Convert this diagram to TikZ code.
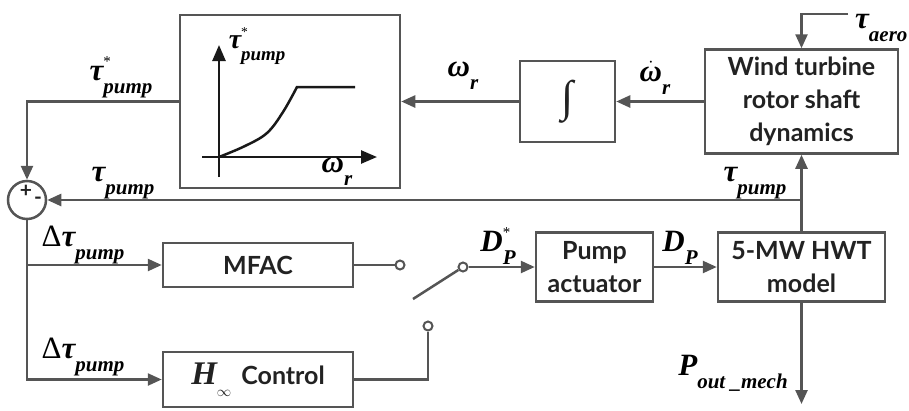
\documentclass[tikz,border=0pt]{standalone}
\usepackage{fontspec}
\usepackage{amsmath}
\setmainfont{Lato}
\newfontfamily\lsr{Liberation Serif}
\usetikzlibrary{arrows.meta}
\definecolor{ln}{HTML}{555555}
\definecolor{tx}{HTML}{222222}
% main symbol, superscript, subscript
\newcommand\sg[3]{#1\rlap{\raisebox{14pt}{\fontsize{15}{15}\selectfont\mdseries\upshape #2}}\raisebox{-13pt}{\fontsize{21}{21}\selectfont #3}}
\tikzset{
 wire/.style={draw=ln, line width=2.5pt},
 arr/.style={wire, -{Triangle[length=14pt,width=12pt]}},
 blk/.style={draw=ln, line width=2.5pt, inner sep=0pt, font=\bfseries\fontsize{25}{33}\selectfont, align=center, text=tx},
 lab/.style={font=\lsr\bfseries\itshape\fontsize{31}{31}\selectfont, inner sep=0pt, text=black},
 term/.style={circle, draw=ln, line width=2pt, fill=white, minimum size=9pt, inner sep=0pt},
 ax/.style={draw=black!90, line width=2.5pt, -{Triangle[length=16pt,width=13pt]}},
 pm/.style={font=\bfseries\fontsize{21}{21}\selectfont, inner sep=0pt, text=tx},
}
\begin{document}
\begin{tikzpicture}[x=1pt,y=-1pt]
\useasboundingbox (0,0) rectangle (909,410);
% blocks
\node[blk, minimum width=220pt, minimum height=173pt] (curve) at (290,101.5) {};
\node[blk, minimum width=95pt, minimum height=81pt] (integ) at (567.5,101.5) {\lsr\mdseries\fontsize{44}{44}\selectfont ∫};
\node[blk, minimum width=193pt, minimum height=104pt] (wt) at (801.5,101.5) {Wind turbine\\rotor shaft\\dynamics};
\node[blk, minimum width=190pt, minimum height=44pt] (mfac) at (258,265) {MFAC};
\node[blk, minimum width=190pt, minimum height=55pt] (hinf) at (258,379.5) {{\lsr\bfseries\itshape\fontsize{33}{33}\selectfont H\raisebox{-12pt}{\mdseries\upshape\fontsize{15}{15}\selectfont$\infty$}}\hspace{10pt}Control};
\node[blk, minimum width=117pt, minimum height=69pt] (pump) at (594.5,267) {Pump\\actuator};
\node[blk, minimum width=167pt, minimum height=69pt] (hwt) at (801.5,267) {5-MW HWT\\model};
\node[circle, draw=ln, line width=2.5pt, minimum size=38pt, inner sep=0pt] (sum) at (27,200) {};
\node[pm] (plus) at (26,191) {+};
\node[pm] (minus) at (38,201) {-};
% graph inside curve box
\coordinate (ytop) at (219,45);
\coordinate (xend) at (377,157);
\draw[ax] (219,177) -- (ytop);
\draw[ax] (202,157) -- (xend);
\draw[draw=black!90, line width=2.5pt] plot[smooth, tension=0.6] coordinates {(219,157) (245,146) (267,133) (283,112) (297,87)} -- (355,87);
% coordinates
\coordinate (aero) at (848,14);
\coordinate (fb) at (801.5,200);
\coordinate (pout) at (801.5,404);
\coordinate (sw) at (413,299);
\node[term] (t1) at (400,265) {};
\node[term] (t2) at (428,326) {};
\node[term] (t3) at (463,267) {};
% connectors
\draw[arr] (integ.west) -- (curve.east);
\draw[arr] (wt.west) -- (integ.east);
\draw[arr] (curve.west) -| (sum.north);
\draw[arr] (hwt.north) -- (wt.south);
\draw[arr] (fb) -- (sum.east);
\draw[arr] (aero) -| (wt.north);
\draw[arr] (sum.south) |- (hinf.west);
\draw[arr] (sum.south |- mfac.west) -- (mfac.west);
\draw[wire] (mfac.east) -- (t1);
\draw[wire] (hinf.east) -| (t2);
\draw[wire] (sw) -- (t3);
\draw[arr] (t3) -- (pump.west);
\draw[arr] (pump.east) -- (hwt.west);
\draw[arr] (hwt.south) -- (pout);
% labels
\node[lab] (l1) at (121,77) {\sg{τ}{*}{pump}};
\node[lab, scale=0.9] (l2) at (257,46) {\sg{τ}{*}{pump}};
\node[lab] (l3) at (337,172) {\sg{ω}{}{r}};
\node[lab] (l4) at (463,76) {\sg{ω}{}{r}};
\node[lab] (l5) at (655,78) {\sg{$\dot{\text{ω}}$}{}{r}};
\node[lab] (l6) at (123,183) {\sg{τ}{}{pump}};
\node[lab] (l7) at (755,183) {\sg{τ}{}{pump}};
\node[lab, anchor=base west] (l8) at (855,28) {\sg{τ}{}{aero}};
\node[lab] (l9) at (83,245) {\sg{{\upshape\mdseries Δ}τ}{}{pump}};
\node[lab] (l10) at (83,357) {\sg{{\upshape\mdseries Δ}τ}{}{pump}};
\node[lab] (l11) at (498,246) {\sg{D}{*}{P}};
\node[lab] (l12) at (680,248) {\sg{D}{}{P}};
\node[lab] (l13) at (733,373) {\sg{P}{}{out \_mech}};
\end{tikzpicture}
\end{document}
